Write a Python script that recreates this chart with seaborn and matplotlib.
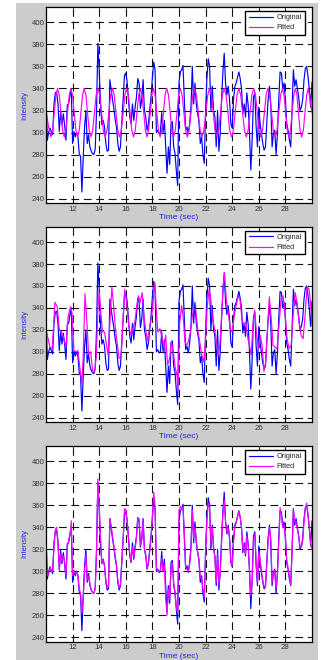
import numpy as np
import pandas as pd
import matplotlib
matplotlib.use('Agg')
import matplotlib.pyplot as plt
from matplotlib.patches import Rectangle
import seaborn as sns

# original signal, sampled every 0.1 s from 10 to 30 s
time_sec = np.round(np.arange(10.0, 30.001, 0.1), 1)
original = [
    334, 293, 300, 304, 301, 298, 326, 336, 337, 326,
    301, 319, 307, 317, 307, 293, 325, 326, 334, 340,
    290, 301, 296, 300, 296, 281, 278, 246, 278, 305,
    320, 290, 298, 287, 283, 281, 280, 285, 320, 381,
    357, 325, 307, 311, 305, 290, 283, 284, 348, 339,
    330, 322, 312, 305, 290, 283, 287, 310, 330, 352,
    354, 346, 330, 314, 308, 326, 311, 323, 332, 349,
    345, 322, 330, 348, 320, 314, 302, 308, 320, 333,
    350, 364, 357, 300, 302, 299, 300, 318, 300, 311,
    287, 263, 287, 271, 308, 310, 287, 281, 265, 252,
    346, 355, 357, 361, 330, 302, 305, 299, 308, 323,
    360, 326, 345, 326, 317, 310, 290, 296, 280, 272,
    320, 350, 367, 360, 320, 342, 320, 314, 287, 320,
    283, 300, 330, 355, 372, 345, 334, 342, 330, 308,
    304, 330, 342, 345, 350, 355, 349, 340, 317, 326,
    314, 336, 325, 300, 266, 293, 332, 336, 305, 287,
    323, 308, 299, 290, 284, 287, 308, 330, 342, 326,
    287, 299, 302, 280, 299, 330, 355, 354, 340, 345,
    330, 308, 302, 293, 287, 320, 357, 342, 348, 340,
    332, 320, 323, 330, 348, 358, 360, 351, 339, 323,
    346,
]

# fit 1: single sinusoid
fit1_time = [
    10.0, 10.18, 10.37,
    10.50, 10.62, 10.75, 10.87, 11.00, 11.12, 11.25, 11.37,
    11.50, 11.62, 11.75, 11.87, 12.00, 12.12, 12.25, 12.37,
    12.50, 12.62, 12.75, 12.87, 13.00, 13.12, 13.25, 13.38,
    13.51, 13.64, 13.77, 13.90, 14.04, 14.18, 14.31, 14.45,
    14.59, 14.72, 14.86, 15.00, 15.13, 15.26, 15.40, 15.53,
    15.66, 15.80, 15.93, 16.06, 16.19, 16.32, 16.45, 16.58,
    16.71, 16.84, 16.97, 17.10, 17.22, 17.35, 17.47, 17.59,
    17.71, 17.84, 17.96, 18.08, 18.20, 18.33, 18.45, 18.58,
    18.70, 18.83, 18.95, 19.08, 19.21, 19.34, 19.46, 19.59,
    19.72, 19.85, 19.97, 20.10, 20.23, 20.37, 20.50, 20.63,
    20.76, 20.90, 21.04, 21.17, 21.31, 21.45, 21.59, 21.73,
    21.87, 22.02, 22.16, 22.30, 22.44, 22.58, 22.71, 22.85,
    22.99, 23.12, 23.26, 23.40, 23.54, 23.68, 23.81, 23.95,
    24.09, 24.22, 24.36, 24.50, 24.64, 24.78, 24.92, 25.06,
    25.20, 25.34, 25.48, 25.62, 25.75, 25.89, 26.02, 26.15,
    26.28, 26.42, 26.55, 26.68, 26.82, 26.96, 27.09, 27.23,
    27.37, 27.50, 27.64, 27.78, 27.90, 28.02, 28.14, 28.26,
    28.38, 28.50, 28.63, 28.75, 28.87, 28.98, 29.10, 29.22,
    29.35, 29.47, 29.60, 29.72, 29.86, 30.0,
]
fit1_val = [
    320, 306, 296,
    302, 318, 334, 340, 334, 318, 302, 296,
    302, 318, 334, 340, 334, 318, 302, 296,
    302, 318, 334, 340, 334, 318, 302, 296,
    302, 318, 334, 340, 334, 318, 302, 296,
    302, 318, 334, 340, 334, 318, 302, 296,
    302, 318, 334, 340, 334, 318, 302, 296,
    302, 318, 334, 340, 334, 318, 302, 296,
    302, 318, 334, 340, 334, 318, 302, 296,
    302, 318, 334, 340, 334, 318, 302, 296,
    302, 318, 334, 340, 334, 318, 302, 296,
    302, 318, 334, 340, 334, 318, 302, 296,
    302, 318, 334, 340, 334, 318, 302, 296,
    302, 318, 334, 340, 334, 318, 302, 296,
    302, 318, 334, 340, 334, 318, 302, 296,
    302, 318, 334, 340, 334, 318, 302, 296,
    302, 318, 334, 340, 334, 318, 302, 296,
    302, 318, 334, 340, 334, 318, 302, 296,
    302, 318, 334, 340, 334, 318, 302, 296,
    302, 318, 334, 340, 330, 318,
]

# fit 2: smoother model
fit2_time = [
    10.0, 10.3, 10.47, 10.67, 10.85, 11.0, 11.17, 11.35, 11.5, 11.67,
    11.85, 11.95, 12.1, 12.25, 12.4, 12.55, 12.7, 12.8, 12.93, 13.06,
    13.2, 13.36, 13.5, 13.66, 13.79, 13.9, 14.0, 14.1, 14.24, 14.4,
    14.54, 14.67, 14.82, 14.95, 15.07, 15.22, 15.37, 15.5, 15.65, 15.77,
    15.92, 16.07, 16.22, 16.38, 16.53, 16.68, 16.83, 16.96, 17.08, 17.23,
    17.36, 17.51, 17.66, 17.81, 17.96, 18.09, 18.19, 18.29, 18.41, 18.57,
    18.72, 18.87, 19.0, 19.14, 19.3, 19.42, 19.57, 19.72, 19.85, 19.92,
    20.05, 20.2, 20.33, 20.45, 20.58, 20.7, 20.86, 21.0, 21.13, 21.26,
    21.4, 21.56, 21.71, 21.86, 21.99, 22.11, 22.26, 22.39, 22.52, 22.67,
    22.82, 22.95, 23.07, 23.22, 23.32, 23.42, 23.55, 23.7, 23.85, 24.0,
    24.15, 24.3, 24.45, 24.58, 24.73, 24.88, 25.03, 25.18, 25.3, 25.43,
    25.56, 25.69, 25.84, 25.99, 26.11, 26.24, 26.39, 26.52, 26.67, 26.79,
    26.92, 27.07, 27.22, 27.37, 27.52, 27.67, 27.82, 27.97, 28.12, 28.28,
    28.43, 28.58, 28.73, 28.88, 29.03, 29.18, 29.33, 29.48, 29.63, 29.78,
    29.93, 30.0,
]
fit2_val = [
    320, 304, 303, 345, 341, 320, 318, 312, 304, 333,
    341, 336, 301, 300, 301, 285, 271, 297, 353, 330,
    298, 300, 283, 282, 297, 339, 354, 339, 318, 318,
    307, 297, 330, 359, 344, 321, 306, 294, 295, 324,
    357, 344, 324, 315, 321, 327, 342, 351, 345, 354,
    333, 318, 310, 324, 333, 350, 363, 339, 318, 321,
    313, 303, 315, 288, 294, 309, 300, 285, 279, 264,
    327, 342, 330, 309, 306, 309, 318, 333, 339, 338,
    321, 309, 297, 291, 309, 339, 357, 348, 330, 321,
    309, 297, 306, 336, 360, 372, 348, 336, 321, 318,
    333, 342, 351, 348, 330, 324, 327, 312, 306, 297,
    324, 338, 315, 303, 315, 306, 282, 291, 324, 350,
    333, 306, 304, 303, 324, 348, 351, 336, 312, 303,
    306, 333, 354, 345, 327, 315, 312, 333, 359, 357,
    339, 324,
]

# fit 3: close fit, same sampling as the original
fit3_val = [
    330, 296, 298, 303, 300, 300, 322, 338, 340, 328,
    302, 316, 309, 314, 309, 296, 322, 328, 333, 346,
    296, 300, 298, 299, 297, 284, 280, 262, 276, 300,
    315, 292, 296, 289, 283, 281, 280, 284, 318, 384,
    360, 330, 308, 310, 305, 292, 286, 286, 348, 342,
    332, 324, 314, 306, 292, 285, 288, 308, 328, 357,
    356, 347, 332, 316, 309, 322, 313, 320, 330, 348,
    348, 324, 328, 346, 320, 316, 303, 306, 318, 330,
    348, 372, 360, 304, 300, 300, 301, 312, 300, 306,
    275, 260, 284, 275, 302, 308, 290, 280, 268, 262,
    356, 359, 357, 358, 335, 304, 302, 300, 306, 320,
    356, 330, 340, 328, 318, 311, 294, 294, 284, 276,
    315, 346, 362, 358, 324, 340, 322, 312, 290, 316,
    288, 298, 326, 352, 365, 345, 336, 340, 330, 310,
    305, 326, 340, 344, 350, 354, 350, 340, 320, 324,
    316, 332, 324, 302, 278, 290, 328, 334, 308, 290,
    318, 310, 300, 292, 286, 285, 306, 328, 340, 330,
    290, 298, 301, 284, 297, 326, 358, 352, 340, 342,
    332, 310, 303, 295, 288, 316, 356, 345, 345, 338,
    332, 322, 322, 328, 345, 357, 362, 352, 340, 325,
    320,
]

x_ticks = [12, 14, 16, 18, 20, 22, 24, 26, 28]
y_ticks = [240, 260, 280, 300, 320, 340, 360, 380, 400]

sns.set_style('white')
plt.rcParams['font.family'] = ['Liberation Sans', 'DejaVu Sans']

W, H = 323, 660
fig = plt.figure(figsize=(W / 100, H / 100), dpi=100, facecolor='white')
fig.patches.append(Rectangle((16 / W, 0), (318 - 16) / W, (H - 3) / H,
                             transform=fig.transFigure, facecolor='#cccccc',
                             edgecolor='none', zorder=-10))

# (top, bottom) pixel rows of each axes
panel_rows = [(7, 203), (226.7, 422), (446, 641.7)]
fits = [(fit1_time, fit1_val), (fit2_time, fit2_val), (list(time_sec), fit3_val)]

orig_df = pd.DataFrame({'time': time_sec, 'value': original})

for (top, bot), (ft, fv) in zip(panel_rows, fits):
    ax = fig.add_axes([46 / W, (H - bot) / H, 266 / W, (bot - top) / H])
    ax.set_facecolor('white')
    fit_df = pd.DataFrame({'time': ft, 'value': fv})
    sns.lineplot(data=orig_df, x='time', y='value', ax=ax, color='#0000ff',
                 linewidth=0.85, label='Original', estimator=None, sort=False)
    sns.lineplot(data=fit_df, x='time', y='value', ax=ax, color='#ff00ff',
                 linewidth=0.85, label='Fitted', estimator=None, sort=False)
    ax.set_xlim(10, 30)
    ax.set_ylim(236, 414)
    ax.set_xticks(x_ticks)
    ax.set_yticks(y_ticks)
    ax.grid(True, color='#111111', linestyle=(0, (7.0, 4.2)), linewidth=0.8)
    ax.tick_params(direction='in', length=2.5, width=0.6, labelsize=5.6,
                   labelcolor='#333333', top=True, right=True, pad=2)
    ax.tick_params(axis='y', pad=1.2)
    for s in ax.spines.values():
        s.set_color('black')
        s.set_linewidth(0.9)
    ax.set_xlabel('Time (sec)', fontsize=6, color='#2222ff', labelpad=1.2)
    ax.set_ylabel('Intensity', fontsize=5.6, color='#2222ff', labelpad=2.5)
    leg = ax.legend(loc='upper right', bbox_to_anchor=(0.974, 0.98),
                    borderaxespad=0, fontsize=5.3, fancybox=False,
                    framealpha=1, edgecolor='black', handlelength=3.3,
                    handletextpad=0.5, labelspacing=0.4, borderpad=0.45)
    leg.get_frame().set_linewidth(1.0)

fig.savefig('out.png', dpi=100, facecolor='white')
